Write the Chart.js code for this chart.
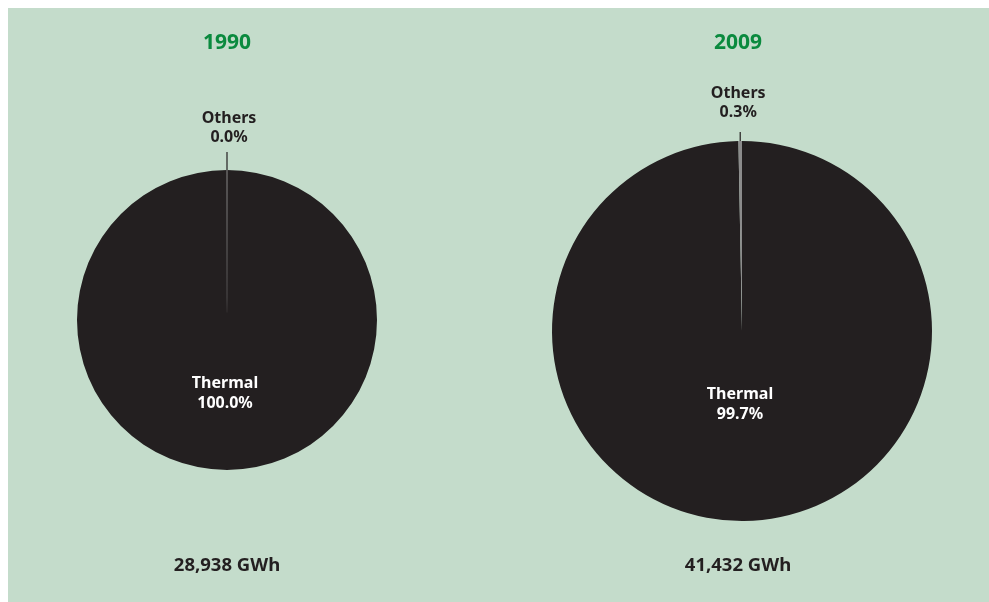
<!DOCTYPE html>
<html>
<head>
<meta charset="utf-8">
<script src="https://cdn.jsdelivr.net/npm/chart.js@4/dist/chart.umd.min.js"></script>
<style>
  html, body { margin: 0; padding: 0; background: #fff; overflow: hidden; }
  #panel { position: absolute; left: 8px; top: 8px; right: 0; bottom: 0; background: #c4dccb; }
  .box { position: absolute; top: 0; height: 602px; }
  #boxL { left: 0; width: 494px; }
  #boxR { left: 494px; width: 495px; }
</style>
</head>
<body>
<div id="panel"></div>
<div class="box" id="boxL"><canvas id="pie1990"></canvas></div>
<div class="box" id="boxR"><canvas id="pie2009"></canvas></div>
<script>
const categories = ['Thermal', 'Others'];
const years = ['1990', '2009'];
const share1990 = [100.0, 0.0];
const share2009 = [99.7, 0.3];
const totals = ['28,938 GWh', '41,432 GWh'];

const pieBlack = '#231f20';
const othersGrey = '#8c8c8c';
const green = '#0a8a3e';
const font = '"Noto Sans", "Open Sans", sans-serif';

// draws year, slice labels, leader line and total
const pieLabels = {
  id: 'pieLabels',
  afterDatasetsDraw(chart, args, opts) {
    const ctx = chart.ctx;
    const meta = chart.getDatasetMeta(0);
    const thermal = meta.data[0];
    const others = meta.data[1];
    const cx = thermal.x, cy = thermal.y, r = thermal.outerRadius;
    const values = chart.data.datasets[0].data;
    const pct = v => v.toFixed(1) + '%';

    ctx.save();
    // thin edge of the "Others" slice, fading toward the centre
    const a = others.startAngle;
    const g = ctx.createLinearGradient(cx, cy - r, cx, cy);
    g.addColorStop(0, othersGrey);
    g.addColorStop(0.85, 'rgba(140,140,140,0.4)');
    g.addColorStop(1, 'rgba(140,140,140,0)');
    if (values[1] === 0) {
      ctx.strokeStyle = g;
      ctx.lineWidth = 1;
      ctx.beginPath();
      ctx.moveTo(cx + Math.cos(a) * r, cy + Math.sin(a) * r);
      ctx.lineTo(cx + Math.cos(a) * r * 0.05, cy + Math.sin(a) * r * 0.05);
      ctx.stroke();
    }

    // leader line above the "Others" slice
    const mid = (others.startAngle + others.endAngle) / 2;
    const ex = cx + Math.cos(mid) * r, ey = cy + Math.sin(mid) * r;
    const top = ey - opts.leader;
    ctx.strokeStyle = '#231f20';
    ctx.lineWidth = 1.2;
    ctx.beginPath();
    ctx.moveTo(ex, ey);
    ctx.lineTo(ex, top);
    ctx.stroke();

    ctx.textAlign = 'center';
    ctx.textBaseline = 'middle';
    ctx.font = 'bold 16px ' + font;
    ctx.fillStyle = '#231f20';
    ctx.fillText(categories[1], ex + opts.dx, top - opts.gap - 19);
    ctx.fillText(pct(values[1]), ex + opts.dx, top - opts.gap);

    ctx.fillStyle = '#ffffff';
    ctx.fillText(categories[0], cx - 2, cy + 63);
    ctx.fillText(pct(values[0]), cx - 2, cy + 83);

    ctx.font = 'bold 21px ' + font;
    ctx.fillStyle = green;
    ctx.fillText(opts.year, cx + opts.dx - 2, 43);

    ctx.font = 'bold 18.5px ' + font;
    ctx.fillStyle = '#231f20';
    ctx.fillText(opts.total, cx + opts.dx - 2, 566);
    ctx.restore();
  }
};

function makePie(id, values, year, total, padding, leader, gap, dx) {
  return new Chart(document.getElementById(id), {
    type: 'pie',
    data: {
      labels: categories,
      datasets: [{
        data: values,
        backgroundColor: [pieBlack, othersGrey],
        borderWidth: 0
      }]
    },
    options: {
      responsive: true,
      maintainAspectRatio: false,
      animation: false,
      layout: { padding: padding },
      plugins: {
        legend: { display: false },
        tooltip: { enabled: false },
        pieLabels: { year: year, total: total, leader: leader, gap: gap, dx: dx }
      }
    },
    plugins: [pieLabels]
  });
}

makePie('pie1990', share1990, years[0], totals[0],
  { left: 77, right: 117, top: 170, bottom: 132 }, 18, 15, 2);
makePie('pie2009', share2009, years[1], totals[1],
  { left: 58, right: 57, top: 141, bottom: 81 }, 9, 20, -2);
</script>
</body>
</html>
